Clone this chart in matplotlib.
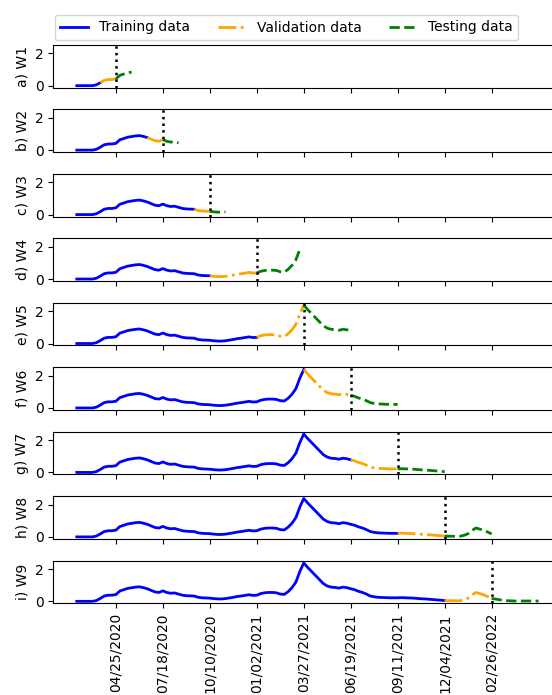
import numpy as np
import matplotlib
matplotlib.use("Agg")
import matplotlib.pyplot as plt
import matplotlib.dates as mdates
from matplotlib.lines import Line2D

# ---- data ----
start_date = np.datetime64("2020-02-15")
values = [0.0, 0.0, 0.0, 0.0, 0.0, 0.05, 0.18, 0.33, 0.38, 0.38,
          0.42, 0.64, 0.72, 0.80, 0.84, 0.88, 0.90, 0.85, 0.78, 0.68,
          0.58, 0.55, 0.65, 0.55, 0.50, 0.52, 0.45, 0.38, 0.35, 0.34,
          0.33, 0.25, 0.22, 0.21, 0.20, 0.17, 0.15, 0.15, 0.17, 0.21,
          0.25, 0.30, 0.33, 0.37, 0.41, 0.37, 0.38, 0.48, 0.53, 0.55,
          0.55, 0.53, 0.45, 0.43, 0.60, 0.85, 1.20, 1.85, 2.38, 2.10,
          1.85, 1.60, 1.35, 1.10, 0.95, 0.88, 0.86, 0.82, 0.88, 0.85,
          0.78, 0.72, 0.62, 0.55, 0.45, 0.33, 0.28, 0.25, 0.24, 0.23,
          0.22, 0.22, 0.22, 0.23, 0.22, 0.21, 0.20, 0.18, 0.16, 0.15,
          0.13, 0.11, 0.09, 0.07, 0.05, 0.04, 0.04, 0.03, 0.04, 0.10,
          0.20, 0.40, 0.55, 0.48, 0.40, 0.30, 0.18, 0.14, 0.10, 0.06,
          0.04, 0.03, 0.02, 0.02, 0.02, 0.02, 0.02, 0.02, 0.02]
window_labels = ["a) W1", "b) W2", "c) W3", "d) W4", "e) W5",
                 "f) W6", "g) W7", "h) W8", "i) W9"]
train_end = [6, 18, 30, 34, 46, 58, 70, 82, 94]     # week index
val_end = [10, 22, 34, 46, 58, 70, 82, 94, 106]     # week index (split line)
test_end = [14, 26, 38, 57, 70, 82, 94, 106, 118]   # week index
tick_dates = ["2020-04-25", "2020-07-18", "2020-10-10", "2021-01-02",
              "2021-03-27", "2021-06-19", "2021-09-11", "2021-12-04",
              "2022-02-26"]
series_names = ["Training data", "Validation data", "Testing data"]

dates = start_date + np.arange(len(values)) * np.timedelta64(7, "D")
y = np.array(values)

W, H = 552, 695
fig = plt.figure(figsize=(W / 100, H / 100), dpi=100)

left_px, right_px = 53.3, 561.5
top0, step, hgt = 45.0, 64.46, 42.6

axes = []
for k in range(9):
    top = top0 + k * step
    rect = [left_px / W, 1 - (top + hgt) / H, (right_px - left_px) / W, hgt / H]
    if k == 0:
        ax = fig.add_axes(rect)
    else:
        ax = fig.add_axes(rect, sharex=axes[0], sharey=axes[0])
    axes.append(ax)

for k, ax in enumerate(axes):
    a, b, c = train_end[k], val_end[k], test_end[k]
    ax.plot(dates[:a + 1], y[:a + 1], color="blue", lw=2, ls="-")
    ax.plot(dates[a:b + 1], y[a:b + 1], color="orange", lw=2, ls="-.")
    ax.plot(dates[b:c + 1], y[b:c + 1], color="green", lw=2, ls="--")
    ax.axvline(dates[b], color="black", lw=1.8, ls=":")
    ax.set_ylabel(window_labels[k], fontsize=10)
    ax.set_yticks([0, 2])
    ax.tick_params(labelsize=10)
    if k < 8:
        ax.tick_params(labelbottom=False)

axes[0].set_xlim(np.datetime64("2020-01-04"), np.datetime64("2022-07-01"))
axes[0].set_ylim(-0.12, 2.52)
axes[-1].set_xticks([np.datetime64(d) for d in tick_dates])
axes[-1].xaxis.set_major_formatter(mdates.DateFormatter("%m/%d/%Y"))
for lab in axes[-1].get_xticklabels():
    lab.set_rotation(90)

handles = [Line2D([], [], color="blue", lw=2, ls="-"),
           Line2D([], [], color="orange", lw=2, ls="-."),
           Line2D([], [], color="green", lw=2, ls="--")]
fig.legend(handles, series_names, loc="upper center", ncol=3, fontsize=10,
           bbox_to_anchor=(286.5 / W, 1 - 8 / H))

fig.savefig("out.png", dpi=100)
